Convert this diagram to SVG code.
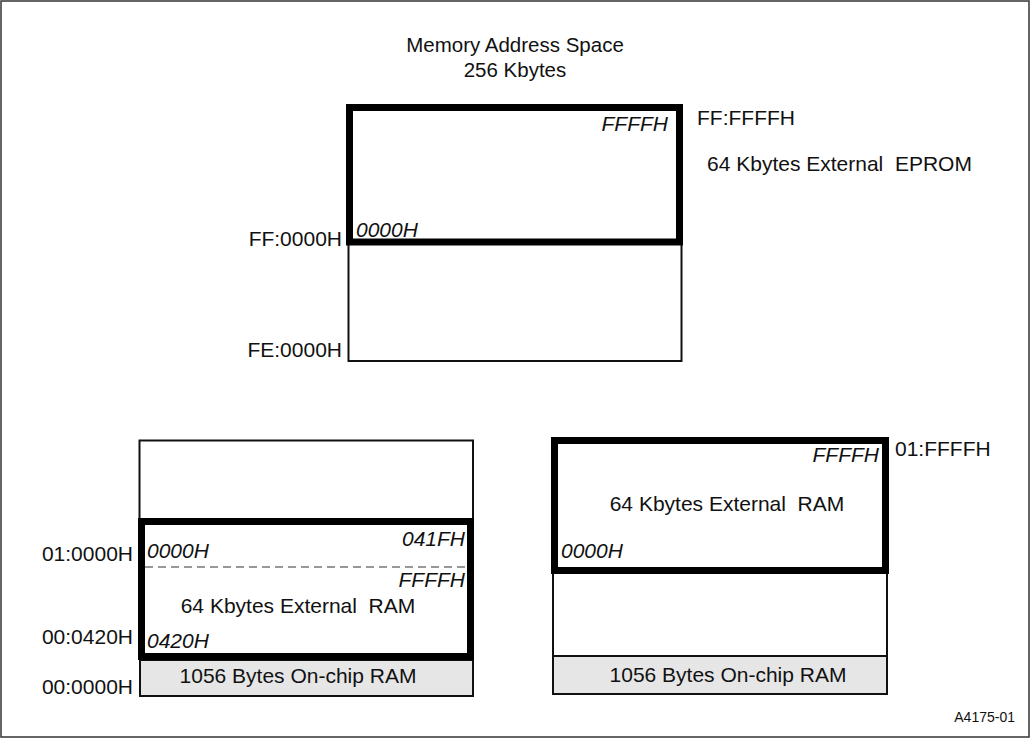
<svg xmlns="http://www.w3.org/2000/svg" width="1031" height="739" viewBox="0 0 1031 739">
<style>
text{font-family:"Liberation Sans",Arial,sans-serif;font-size:21px;fill:#111;white-space:pre}
.it{font-style:italic}
.sm{font-size:14px}
.ttl{font-size:20.5px}
.thin{fill:none;stroke:#111;stroke-width:2}
.thick{fill:none;stroke:#000;stroke-width:7}
.gray{fill:#e6e6e6;stroke:#111;stroke-width:2}
.mid{text-anchor:middle}
.end{text-anchor:end}
</style>
<rect x="1" y="1" width="1028" height="736" fill="#fff" stroke="#333" stroke-width="1.5"/>
<g id="title">
<text class="mid ttl" x="515" y="52">Memory Address Space</text>
<text class="mid ttl" x="515" y="77">256 Kbytes</text>
</g>
<g id="top-map">
<rect class="thin" x="348.5" y="241" width="333" height="120"/>
<rect class="thick" x="349.5" y="107.5" width="330" height="134.5"/>
<text class="it end" x="668" y="131">FFFFH</text>
<text class="it" x="356" y="237">0000H</text>
<text x="697" y="125">FF:FFFFH</text>
<text x="707" y="171" xml:space="preserve">64 Kbytes External  EPROM</text>
<text class="end" x="342" y="246">FF:0000H</text>
<text class="end" x="342" y="357">FE:0000H</text>
</g>
<g id="left-map">
<rect class="thin" x="139.5" y="440.5" width="333.5" height="80"/>
<rect class="gray" x="140" y="660" width="333" height="36"/>
<rect class="thick" x="141.5" y="521.5" width="329" height="135"/>
<line x1="145" y1="567" x2="468" y2="567" stroke="#333" stroke-width="1.2" stroke-dasharray="8,5"/>
<text class="it end" x="465" y="546">041FH</text>
<text class="it" x="147" y="558">0000H</text>
<text class="it end" x="465" y="587">FFFFH</text>
<text class="mid" x="298" y="613" xml:space="preserve">64 Kbytes External  RAM</text>
<text class="it" x="147" y="648">0420H</text>
<text class="mid" x="298" y="683">1056 Bytes On-chip RAM</text>
<text class="end" x="133" y="561">01:0000H</text>
<text class="end" x="133" y="644">00:0420H</text>
<text class="end" x="133" y="694">00:0000H</text>
</g>
<g id="right-map">
<rect class="thin" x="553" y="570" width="334" height="86"/>
<rect class="gray" x="553" y="656" width="334" height="38"/>
<rect class="thick" x="554.5" y="440.5" width="331" height="130"/>
<text class="it end" x="879" y="462">FFFFH</text>
<text class="mid" x="727" y="511" xml:space="preserve">64 Kbytes External  RAM</text>
<text class="it" x="561" y="558">0000H</text>
<text class="mid" x="728" y="682">1056 Bytes On-chip RAM</text>
<text x="895" y="456">01:FFFFH</text>
</g>
<g id="footer">
<text class="sm end" x="1015" y="722">A4175-01</text>
</g>
</svg>
